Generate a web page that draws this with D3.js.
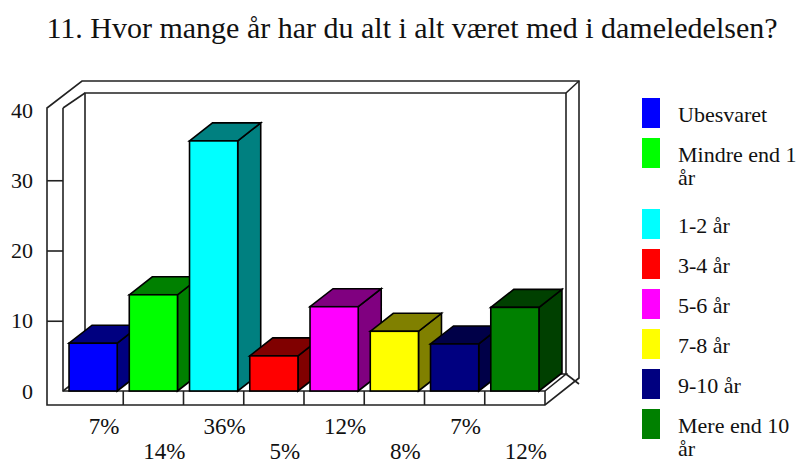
<!DOCTYPE html>
<html>
<head>
<meta charset="utf-8">
<script src="https://cdn.jsdelivr.net/npm/d3@7"></script>
<style>
  body { margin: 0; background: #fff; }
</style>
</head>
<body>
<div id="chart"></div>
<script>
const title = "11. Hvor mange år har du alt i alt været med i dameledelsen?";
const categories = ["Ubesvaret", "Mindre end 1 år", "1-2 år", "3-4 år", "5-6 år", "7-8 år", "9-10 år", "Mere end 10 år"];
const values = [6.8, 13.7, 35.6, 5, 12, 8.5, 6.7, 11.9];
const percentLabels = ["7%", "14%", "36%", "5%", "12%", "8%", "7%", "12%"];
const legendLines = [["Ubesvaret"], ["Mindre end 1", "år"], ["1-2 år"], ["3-4 år"], ["5-6 år"], ["7-8 år"], ["9-10 år"], ["Mere end 10", "år"]];
const frontColors = ["#0000ff", "#00ff00", "#00ffff", "#ff0000", "#ff00ff", "#ffff00", "#000080", "#008000"];
const sideColors = ["#000080", "#008000", "#008080", "#800000", "#800080", "#808000", "#000048", "#004000"];
const yTicks = [0, 10, 20, 30, 40];

const W = 806, H = 464;
const font = "'Liberation Serif', 'Times New Roman', 'DejaVu Serif', serif";
const svg = d3.select("#chart").append("svg")
  .attr("width", W).attr("height", H)
  .attr("font-family", font);

// front plane of the plot area
const plotLeft = 63, plotRight = 545, base = 391;
const x = d3.scaleBand().domain(categories).range([plotLeft, plotRight]).padding(0);
const y = d3.scaleLinear().domain([0, 40]).range([base, 110]);
const wallTop = y(40) - 2;

// depth offsets: inner (floor / back wall face), outer (wall thickness), bars
const dx = 22, dy = -17;
const odx = 35, ody = -27;
const bdx = 23, bdy = -18;
const wallW = 16, floorH = 14;
const line = "#222";

// title
svg.append("text")
  .attr("x", 412).attr("y", 38)
  .attr("text-anchor", "middle")
  .attr("fill", "#111")
  .style("font-family", font)
  .style("font-size", "30px")
  .text(title);

const frame = svg.append("g")
  .attr("fill", "none").attr("stroke", line).attr("stroke-width", 1.6);

// outer silhouette of walls + floor
frame.append("path")
  .attr("fill", "#fff")
  .attr("d", d3.line()([
    [plotLeft - wallW, wallTop], [plotLeft - wallW + odx, wallTop + ody], [plotRight + odx - 1, wallTop + ody],
    [plotRight + odx - 1, base + floorH + ody], [plotRight, base + floorH], [plotLeft - wallW, base + floorH]
  ]) + "Z");

// left wall front face + floor front face
frame.append("path")
  .attr("d", d3.line()([[plotLeft, wallTop], [plotLeft, base], [plotRight, base], [plotRight, base + floorH]]));
// left wall inner top edge
frame.append("path")
  .attr("d", d3.line()([[plotLeft, wallTop], [plotLeft + dx, wallTop + dy + 2]]));
// back wall inner face
frame.append("path")
  .attr("d", d3.line()([[plotLeft + dx, base + dy], [plotLeft + dx, wallTop + dy + 2], [plotRight + dx - 1, wallTop + dy + 2], [plotRight + dx - 1, base + dy]]));
// back wall top corner
frame.append("path")
  .attr("d", d3.line()([[plotRight + dx - 1, wallTop + dy + 2], [plotRight + odx - 1, wallTop + ody]]));
// floor top surface edges
frame.append("path")
  .attr("d", d3.line()([[plotLeft, base], [plotLeft + dx, base + dy], [plotRight + dx - 1, base + dy], [plotRight, base]]));
frame.append("path")
  .attr("d", d3.line()([[plotRight + dx - 1, base + dy], [plotRight + odx - 1, base + dy + 10]]));

// category dividers on floor front
frame.selectAll(".div")
  .data(categories.slice(1))
  .enter().append("line")
  .attr("x1", d => x(d)).attr("x2", d => x(d))
  .attr("y1", base).attr("y2", base + floorH);

// y axis on left wall
const yAxis = svg.append("g")
  .attr("transform", `translate(${plotLeft},0)`)
  .call(d3.axisLeft(y).tickValues(yTicks).tickSize(wallW).tickPadding(14));
yAxis.attr("font-family", font);
yAxis.select(".domain").remove();
yAxis.selectAll(".tick line")
  .attr("stroke", line).attr("stroke-width", 1.6)
  .attr("display", d => (d === 0 || d === 40) ? "none" : null);
yAxis.selectAll(".tick text")
  .style("font-size", "22px")
  .style("font-family", font)
  .attr("fill", "#111");

// bars
const bw = x.bandwidth() * 0.8, off = x.bandwidth() * 0.1;
const bars = svg.selectAll(".bar")
  .data(categories)
  .enter().append("g")
  .attr("class", "bar")
  .attr("stroke", "#000").attr("stroke-width", 1.6).attr("stroke-linejoin", "miter");

bars.each(function(c, i) {
  const g = d3.select(this);
  const x0 = x(c) + off, x1 = x0 + bw, yt = y(values[i]);
  // side
  g.append("path").attr("fill", sideColors[i])
    .attr("d", d3.line()([[x1, base], [x1, yt], [x1 + bdx, yt + bdy], [x1 + bdx, base + bdy]]) + "Z");
  // top
  g.append("path").attr("fill", sideColors[i])
    .attr("d", d3.line()([[x0, yt], [x0 + bdx, yt + bdy], [x1 + bdx, yt + bdy], [x1, yt]]) + "Z");
  // front
  g.append("rect").attr("fill", frontColors[i])
    .attr("x", x0).attr("y", yt).attr("width", bw).attr("height", base - yt);
});

// percentage labels, staggered in two rows
svg.selectAll(".pct")
  .data(categories)
  .enter().append("text")
  .attr("class", "pct")
  .attr("x", d => x(d) + x.bandwidth() / 2 + 11)
  .attr("y", (d, i) => i % 2 === 0 ? 434 : 459)
  .attr("text-anchor", "middle")
  .attr("fill", "#111")
  .style("font-family", font)
  .style("font-size", "23px")
  .text((d, i) => percentLabels[i]);

// legend
const legend = svg.append("g");
let ly = 98;
categories.forEach((c, i) => {
  legend.append("rect")
    .attr("x", 642).attr("y", ly).attr("width", 18).attr("height", 30)
    .attr("fill", frontColors[i]);
  const t = legend.append("text")
    .attr("x", 678).attr("y", ly + 24)
    .attr("fill", "#111")
    .style("font-family", font)
    .style("font-size", "22px");
  legendLines[i].forEach((s, k) => {
    t.append("tspan").attr("x", 678).attr("dy", k === 0 ? 0 : 23).text(s);
  });
  ly += 40 + (legendLines[i].length - 1) * 31;
});
</script>
</body>
</html>
